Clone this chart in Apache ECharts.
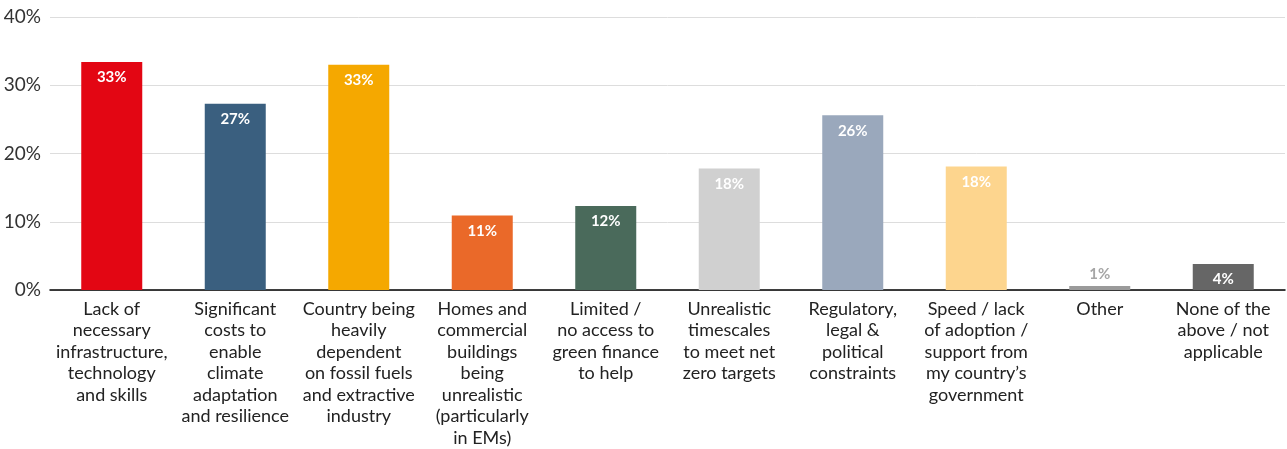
<!DOCTYPE html>
<html>
<head>
<meta charset="utf-8">
<script src="https://cdn.jsdelivr.net/npm/echarts@6/dist/echarts.min.js"></script>
<style>
  html, body { margin: 0; padding: 0; background: #fff; }
  #chart { width: 1287px; height: 449px; }
</style>
</head>
<body>
<div id="chart"></div>
<script>
var categories = [
    'Lack of\nnecessary\ninfrastructure,\ntechnology\nand skills',
    'Significant\ncosts to\nenable\nclimate\nadaptation\nand resilience',
    'Country being\nheavily\ndependent\non fossil fuels\nand extractive\nindustry',
    'Homes and\ncommercial\nbuildings\nbeing\nunrealistic\n(particularly\nin EMs)',
    'Limited /\nno access to\ngreen finance\nto help',
    'Unrealistic\ntimescales\nto meet net\nzero targets',
    'Regulatory,\nlegal &\npolitical\nconstraints',
    'Speed / lack\nof adoption /\nsupport from\nmy country\u2019s\ngovernment',
    'Other',
    'None of the\nabove / not\napplicable'
];
var values = [33.4, 27.3, 33.0, 10.9, 12.3, 17.8, 25.6, 18.1, 0.6, 3.8];
var labels = ['33%', '27%', '33%', '11%', '12%', '18%', '26%', '18%', '1%', '4%'];
var colors = ['#E30613', '#3A5F7F', '#F5A800', '#EA6929', '#4A6A5B', '#D0D0D0', '#9AA8BC', '#FDD58E', '#9A9A9A', '#666666'];

var FONT = 'Lato, "Noto Sans", sans-serif';

var data = values.map(function (v, i) {
    var d = { value: v, itemStyle: { color: colors[i] } };
    if (v < 2) {
        d.label = { position: 'top', color: '#A6A6A6', distance: 4 };
    }
    return d;
});

var chart = echarts.init(document.getElementById('chart'));
chart.setOption({
    animation: false,
    grid: { left: 50, right: 2, top: 17, bottom: 159 },
    xAxis: {
        type: 'category',
        data: categories,
        axisLine: { lineStyle: { color: '#000', width: 1.5 } },
        axisTick: { show: false },
        axisLabel: {
            interval: 0,
            color: '#222',
            fontFamily: FONT,
            fontSize: 18,
            lineHeight: 21.5,
            margin: 8,
            verticalAlign: 'top'
        }
    },
    yAxis: {
        type: 'value',
        min: 0,
        max: 40,
        interval: 10,
        axisLabel: {
            formatter: '{value}%',
            color: '#333',
            fontFamily: FONT,
            fontSize: 19,
            margin: 9
        },
        splitLine: { lineStyle: { color: '#DDDDDD', width: 1 } },
        axisLine: { show: false },
        axisTick: { show: false }
    },
    series: [{
        type: 'bar',
        barWidth: 61,
        data: data,
        label: {
            show: true,
            position: 'insideTop',
            distance: 8,
            color: '#fff',
            fontFamily: FONT,
            fontWeight: 'bold',
            fontSize: 15,
            formatter: function (p) { return labels[p.dataIndex]; }
        }
    }]
});
</script>
</body>
</html>
